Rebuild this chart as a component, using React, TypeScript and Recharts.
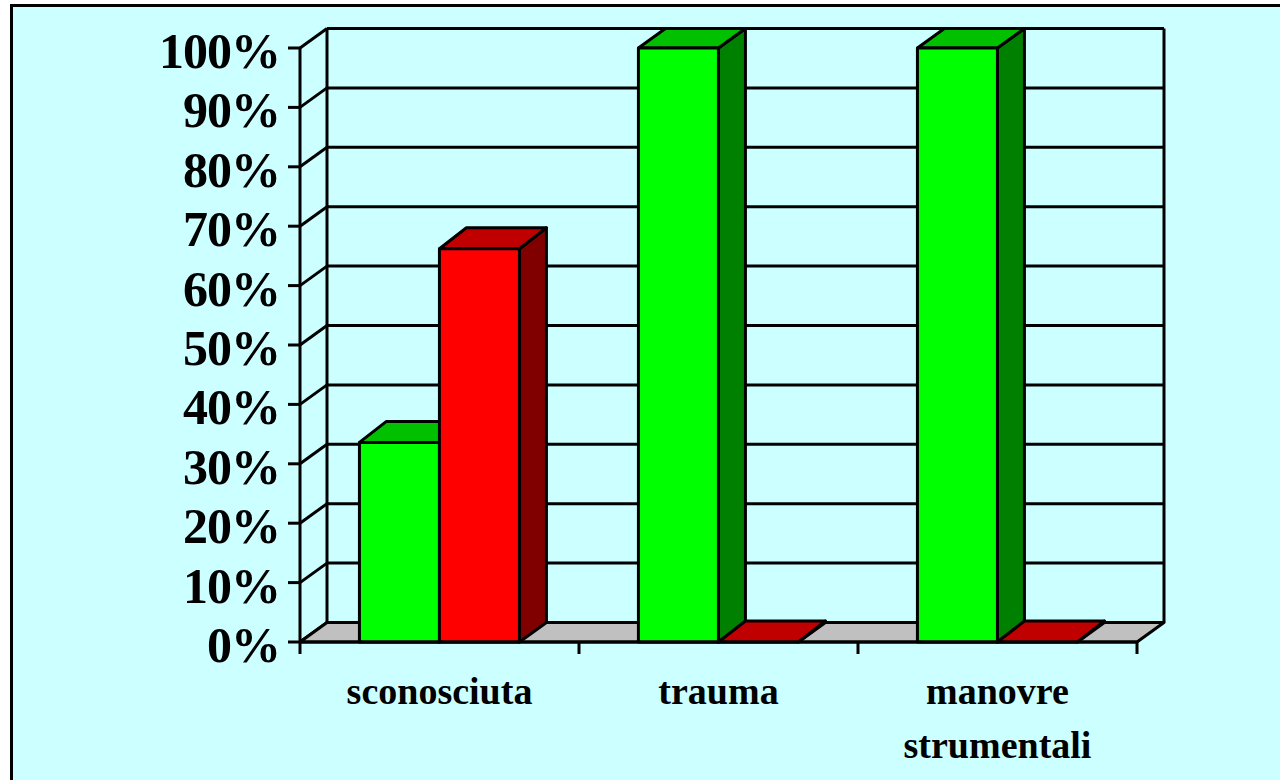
import React from "react";
import { BarChart, Bar, XAxis, YAxis, CartesianGrid, ReferenceArea } from "recharts";

const categories = ["sconosciuta", "trauma", "manovre strumentali"];
const greenValues = [33.6, 100, 100];
const redValues = [66.2, 0, 0];
const yTicks = [0, 10, 20, 30, 40, 50, 60, 70, 80, 90, 100];

const rows = categories.map((name, i) => ({ name, green: greenValues[i], red: redValues[i] }));

const WALL_DX = 27;
const WALL_DY = 19.5;
const BAR_DX = 27;
const BAR_DY = 21;
const STROKE = 3;
const X_TICK = 12;
const FONT = '"Liberation Serif", "Times New Roman", serif';

const GridLine = (props: any) => {
  const { x1, x2, y1 } = props;
  return (
    <g>
      <line x1={x1} y1={y1} x2={x1 + WALL_DX} y2={y1 - WALL_DY} stroke="#000" strokeWidth={STROKE} />
      <line x1={x1 + WALL_DX} y1={y1 - WALL_DY} x2={x2 + WALL_DX} y2={y1 - WALL_DY} stroke="#000" strokeWidth={STROKE} />
    </g>
  );
};

const Walls = (props: any) => {
  const { x, y, width, height } = props;
  const bottom = y + height;
  const right = x + width;
  const floor = `${x},${bottom} ${x + WALL_DX},${bottom - WALL_DY} ${right + WALL_DX},${bottom - WALL_DY} ${right},${bottom}`;
  const step = width / categories.length;
  return (
    <g>
      <polygon points={floor} fill="#C0C0C0" stroke="#000" strokeWidth={STROKE} strokeLinejoin="round" />
      <line x1={x + WALL_DX} y1={y - WALL_DY} x2={x + WALL_DX} y2={bottom - WALL_DY} stroke="#000" strokeWidth={STROKE} />
      <line x1={right + WALL_DX} y1={y - WALL_DY} x2={right + WALL_DX} y2={bottom - WALL_DY} stroke="#000" strokeWidth={STROKE} />
      {[0, 1, 2, 3].map((i) => (
        <line key={i} x1={x + i * step} y1={bottom} x2={x + i * step} y2={bottom + X_TICK} stroke="#000" strokeWidth={STROKE} />
      ))}
    </g>
  );
};

const cuboid = (front: string, top: string, side: string) => (props: any) => {
  const { x, y, width, height, background } = props;
  const bottom = y + height;
  const right = x + width;
  const wallTop = (background ? background.y : y) - WALL_DY;
  const backY = Math.max(y - BAR_DY, wallTop);
  const common = { stroke: "#000", strokeWidth: STROKE, strokeLinejoin: "round" as const };
  return (
    <g>
      <polygon
        points={`${right},${y} ${right + BAR_DX},${backY} ${right + BAR_DX},${bottom - WALL_DY} ${right},${bottom}`}
        fill={side}
        {...common}
      />
      <polygon
        points={`${x},${y} ${x + BAR_DX},${backY} ${right + BAR_DX},${backY} ${right},${y}`}
        fill={top}
        {...common}
      />
      {height > 0 && <rect x={x} y={y} width={width} height={height} fill={front} {...common} />}
    </g>
  );
};

const GreenBar = cuboid("#00FF00", "#00C000", "#008000");
const RedBar = cuboid("#FF0000", "#C00000", "#800000");

const YTick = (props: any) => {
  const { x, y, payload } = props;
  return (
    <text x={x} y={y + 20} textAnchor="end" fontFamily={FONT} fontWeight="bold" fontSize={50} letterSpacing={-1} fill="#000">
      {`${payload.value}%`}
    </text>
  );
};

const XTick = (props: any) => {
  const { x, payload } = props;
  const words = String(payload.value).split(" ");
  return (
    <text textAnchor="middle" fontFamily={FONT} fontWeight="bold" fontSize={38} fill="#000">
      {words.map((w, i) => (
        <tspan key={w} x={x} y={704 + i * 54}>
          {w}
        </tspan>
      ))}
    </text>
  );
};

export default function App() {
  return (
    <div style={{ position: "fixed", left: 0, top: 0, width: 1280, height: 780, background: "#fff", overflow: "hidden" }}>
      <div
        style={{
          position: "absolute",
          left: 10,
          top: 4,
          width: 1267,
          height: 773,
          background: "#CCFFFF",
          borderTop: "3px solid #000",
          borderLeft: "3px solid #000",
        }}
      />
      <div style={{ position: "absolute", left: 0, top: 0 }}>
        <BarChart
          width={1280}
          height={780}
          data={rows}
          margin={{ top: 48, right: 143, bottom: 0, left: 0 }}
          barCategoryGap="21.3%"
          barGap={0}
        >
          <ReferenceArea y1={0} y2={100} shape={Walls} />
          <CartesianGrid vertical={false} horizontal={GridLine as any} />
          <XAxis
            dataKey="name"
            height={138}
            stroke="#000"
            strokeWidth={STROKE}
            tickLine={false}
            tickSize={12}
            interval={0}
            tick={XTick as any}
          />
          <YAxis
            type="number"
            domain={[0, 100]}
            ticks={yTicks}
            width={300}
            stroke="#000"
            strokeWidth={STROKE}
            tickSize={12}
            tickMargin={8}
            interval={0}
            tick={YTick as any}
          />
          <Bar dataKey="green" fill="#00FF00" shape={GreenBar as any} isAnimationActive={false} />
          <Bar dataKey="red" fill="#FF0000" shape={RedBar as any} isAnimationActive={false} />
        </BarChart>
      </div>
    </div>
  );
}
